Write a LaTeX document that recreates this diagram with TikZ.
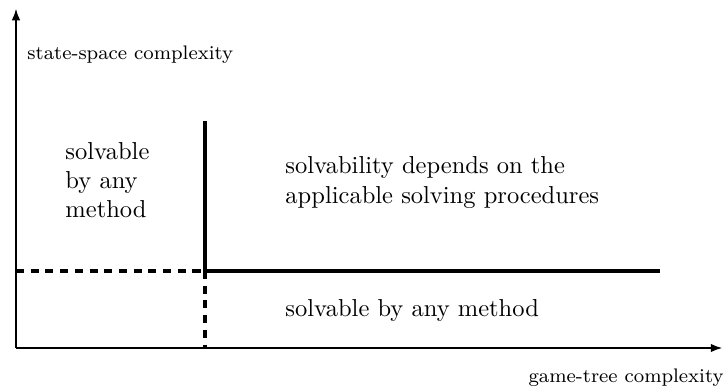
\documentclass[tikz,border=0pt]{standalone}
\usetikzlibrary{arrows.meta}
\begin{document}
\begin{tikzpicture}[x=0.408pt,y=-0.408pt,
  axis/.style={line width=1.2pt,-{Latex[length=5pt,width=3.5pt]}},
  border/.style={line width=1.3pt},
  dborder/.style={line width=1.3pt,dash pattern=on 3.3pt off 2.7pt},
  txt/.style={inner sep=0pt,anchor=base west,align=left},
  small/.style={inner sep=0pt,font=\footnotesize}]
\useasboundingbox (0,0) rectangle (725,389);
\coordinate (O) at (16,348);
\coordinate (Ytop) at (16,8);
\coordinate (Xend) at (723,348);
\coordinate (Vtop) at (205,121);
\coordinate (C) at (205,271);
\coordinate (Hend) at (660,271);
\coordinate (Lend) at (16,271);
\coordinate (Vbot) at (205,348);
\draw[axis] (O) -- (Ytop);
\draw[axis] (O) -- (Xend);
\draw[border] (Vtop) -- (C) -- (Hend);
\draw[dborder] (Lend) -- (C);
\draw[dborder] (C) -- (Vbot);
\node[small,anchor=base west] (ylab) at (27,60) {state-space complexity};
\node[small,anchor=base east] (xlab) at (724,382) {game-tree complexity};
\node[txt] (t1) at (65,218) {solvable\\by any\\method};
\node[txt] (t2) at (285,203) {solvability depends on the\\applicable solving procedures};
\node[txt] (t3) at (285,317) {solvable by any method};
\end{tikzpicture}
\end{document}
